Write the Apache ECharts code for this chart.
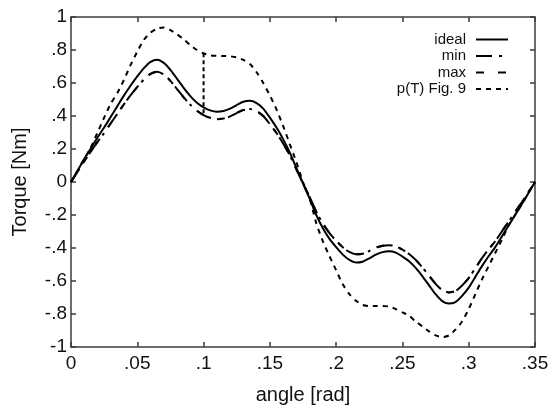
<!DOCTYPE html>
<html>
<head>
<meta charset="utf-8">
<script src="https://cdn.jsdelivr.net/npm/echarts@6/dist/echarts.min.js"></script>
<style>html,body{margin:0;padding:0;background:#fff}#c{width:552px;height:410px}</style>
</head>
<body>
<div id="c"></div>
<script>
// angle [rad], step 0.005 from 0 to 0.35
const angles = [0,0.005,0.01,0.015,0.02,0.025,0.03,0.035,0.04,0.045,0.05,0.055,0.06,0.065,0.07,0.075,0.08,0.085,0.09,0.095,0.1,0.105,0.11,0.115,0.12,0.125,0.13,0.135,0.14,0.145,0.15,0.155,0.16,0.165,0.17,0.175,0.18,0.185,0.19,0.195,0.2,0.205,0.21,0.215,0.22,0.225,0.23,0.235,0.24,0.245,0.25,0.255,0.26,0.265,0.27,0.275,0.28,0.285,0.29,0.295,0.3,0.305,0.31,0.315,0.32,0.325,0.33,0.335,0.34,0.345,0.35];
const ideal = [0,0.07,0.14,0.205,0.27,0.33,0.395,0.46,0.525,0.585,0.64,0.69,0.728,0.741,0.722,0.68,0.625,0.57,0.52,0.48,0.452,0.434,0.426,0.43,0.445,0.466,0.486,0.492,0.478,0.445,0.39,0.33,0.26,0.18,0.085,-0.01,-0.1,-0.2,-0.28,-0.345,-0.395,-0.44,-0.472,-0.488,-0.483,-0.463,-0.44,-0.425,-0.42,-0.428,-0.452,-0.48,-0.52,-0.57,-0.625,-0.68,-0.722,-0.737,-0.728,-0.69,-0.64,-0.575,-0.51,-0.45,-0.395,-0.33,-0.265,-0.2,-0.135,-0.068,0];
const minT = [0,0.063,0.126,0.185,0.243,0.297,0.356,0.414,0.472,0.527,0.576,0.621,0.655,0.668,0.651,0.613,0.563,0.513,0.468,0.432,0.406,0.389,0.381,0.385,0.398,0.418,0.436,0.442,0.43,0.4,0.351,0.297,0.234,0.162,0.077,-0.008,-0.09,-0.18,-0.252,-0.31,-0.356,-0.395,-0.424,-0.438,-0.435,-0.418,-0.398,-0.386,-0.383,-0.39,-0.41,-0.436,-0.472,-0.517,-0.567,-0.617,-0.655,-0.669,-0.661,-0.627,-0.582,-0.522,-0.462,-0.408,-0.359,-0.3,-0.241,-0.182,-0.123,-0.062,0];
const maxT = [0,0.063,0.126,0.185,0.243,0.297,0.356,0.414,0.472,0.527,0.576,0.621,0.655,0.668,0.651,0.613,0.563,0.513,0.468,0.432,0.406,0.389,0.381,0.385,0.398,0.418,0.436,0.442,0.43,0.4,0.351,0.297,0.234,0.162,0.077,-0.008,-0.09,-0.18,-0.252,-0.31,-0.356,-0.395,-0.424,-0.438,-0.435,-0.418,-0.398,-0.386,-0.383,-0.39,-0.41,-0.436,-0.472,-0.517,-0.567,-0.617,-0.655,-0.669,-0.661,-0.627,-0.582,-0.522,-0.462,-0.408,-0.359,-0.3,-0.241,-0.182,-0.123,-0.062,0];
const pT = [0,0.07,0.14,0.21,0.3,0.39,0.475,0.54,0.62,0.71,0.79,0.862,0.905,0.93,0.937,0.92,0.895,0.865,0.83,0.8,0.78,0.768,0.765,0.764,0.762,0.755,0.74,0.715,0.665,0.6,0.525,0.44,0.34,0.23,0.12,0,-0.1,-0.25,-0.36,-0.45,-0.535,-0.62,-0.68,-0.72,-0.745,-0.752,-0.752,-0.752,-0.755,-0.77,-0.79,-0.81,-0.845,-0.875,-0.905,-0.93,-0.94,-0.93,-0.895,-0.845,-0.77,-0.68,-0.59,-0.51,-0.43,-0.35,-0.265,-0.2,-0.135,-0.068,0];
// vertical drop of p(T) at angle 0.1
const pTDropX = [0.1, 0.1];
const pTDropY = [0.78, 0.41];
const xTicks = [0,0.05,0.1,0.15,0.2,0.25,0.3,0.35];
const yTicks = [-1,-0.8,-0.6,-0.4,-0.2,0,0.2,0.4,0.6,0.8,1];
const legendNames = ['ideal','min','max','p(T) Fig. 9'];

const pair = (xs, ys) => xs.map((x, i) => [x, ys[i]]);
const fmt = v => {
  const s = String(+(+v).toFixed(3));
  return s.replace(/^(-?)0\./, '$1.');
};
const FONT = 'Liberation Sans';
const axisLineStyle = {color: '#3c3c3c', width: 1.5};
const chart = echarts.init(document.getElementById('c'), null, {renderer: 'canvas'});
const mk = (name, data, type, width) => ({
  name, type: 'line', data, symbol: 'none', showSymbol: false, smooth: 0.25,
  lineStyle: {color: '#000', width: width, type: type},
  itemStyle: {color: '#000'}, animation: false, z: 3
});
chart.setOption({
  animation: false,
  grid: {left: 71, right: 17, top: 17, bottom: 58},
  legend: {
    data: legendNames, orient: 'vertical', align: 'right', right: 43, top: 32,
    itemWidth: 32, itemHeight: 16.8, itemGap: 1.5, padding: 0,
    itemStyle: {opacity: 0, borderWidth: 0},
    textStyle: {fontFamily: FONT, fontSize: 15, color: '#111', padding: [0, 5, 0, 0]},
    selectedMode: false
  },
  xAxis: [{
    type: 'value', min: 0, max: 0.35, interval: 0.05,
    name: 'angle [rad]', nameLocation: 'middle', nameGap: 38,
    nameTextStyle: {fontFamily: FONT, fontSize: 20, color: '#111'},
    axisLine: {show: true, onZero: false, lineStyle: axisLineStyle},
    axisTick: {show: true, inside: true, length: 5, lineStyle: axisLineStyle},
    axisLabel: {fontFamily: FONT, fontSize: 19, color: '#111', margin: 7, formatter: fmt},
    splitLine: {show: false}
  }, {
    type: 'value', min: 0, max: 0.35, interval: 0.05, position: 'top',
    axisLine: {show: true, onZero: false, lineStyle: axisLineStyle},
    axisTick: {show: true, inside: true, length: 5, lineStyle: axisLineStyle},
    axisLabel: {show: false}, splitLine: {show: false}
  }],
  yAxis: [{
    type: 'value', min: -1, max: 1, interval: 0.2,
    name: 'Torque [Nm]', nameLocation: 'middle', nameGap: 41,
    nameTextStyle: {fontFamily: FONT, fontSize: 20, color: '#111'},
    axisLine: {show: true, onZero: false, lineStyle: axisLineStyle},
    axisTick: {show: true, inside: true, length: 5, lineStyle: axisLineStyle},
    axisLabel: {fontFamily: FONT, fontSize: 19, color: '#111', margin: 4, formatter: fmt},
    splitLine: {show: false}
  }, {
    type: 'value', min: -1, max: 1, interval: 0.2, position: 'right',
    axisLine: {show: true, onZero: false, lineStyle: axisLineStyle},
    axisTick: {show: true, inside: true, length: 5, lineStyle: axisLineStyle},
    axisLabel: {show: false}, splitLine: {show: false}
  }],
  series: [
    mk('ideal', pair(angles, ideal), 'solid', 2),
    mk('min', pair(angles, minT), [16, 7, 3, 7], 2),
    mk('max', pair(angles, maxT), [8, 14], 2),
    mk('p(T) Fig. 9', pair(angles, pT), [5, 5], 2),
    Object.assign(mk('p(T) drop', pair(pTDropX, pTDropY), [4, 3], 2), {smooth: false})
  ]
});
</script>
</body>
</html>
